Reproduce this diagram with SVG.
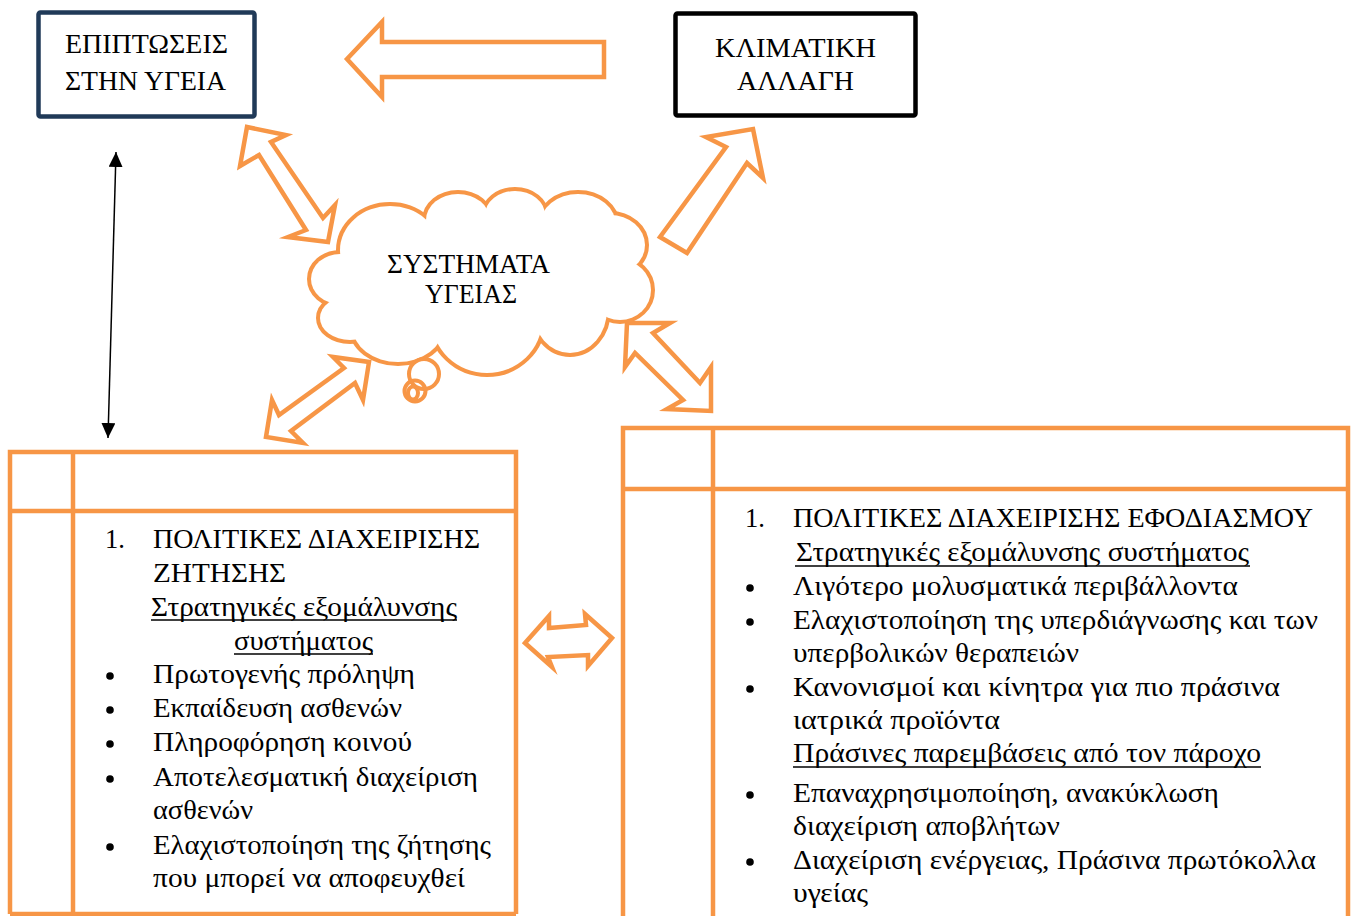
<svg xmlns="http://www.w3.org/2000/svg" width="1352" height="916" viewBox="0 0 1352 916">
<style>
  .t { font-family: "Liberation Serif", "Times New Roman", serif; fill: #000; }
  .hd { font-size: 27px; }
  .bd { font-size: 26.5px; }
  .arr { fill: #fff; stroke: #f79646; stroke-width: 4.5; stroke-linejoin: miter; stroke-miterlimit: 10; }
  .tbl { fill: none; stroke: #f79646; stroke-width: 4.5; }
  .ul { stroke: #000; stroke-width: 1.6; }
  .bul { fill: #000; }
</style>
<defs>
  <marker id="ah" viewBox="0 0 15 14" refX="15" refY="7" markerWidth="15" markerHeight="14" markerUnits="userSpaceOnUse" orient="auto-start-reverse">
    <path d="M0,0 L15,7 L0,14 z" fill="#000"/>
  </marker>
  <g id="bumps">
    <ellipse cx="340" cy="279" rx="29" ry="25"/>
    <ellipse cx="350" cy="318" rx="30" ry="22"/>
    <ellipse cx="398" cy="328" rx="45" ry="34"/>
    <ellipse cx="487" cy="320" rx="55" ry="53"/>
    <ellipse cx="570" cy="310" rx="37" ry="43"/>
    <ellipse cx="620" cy="290" rx="31" ry="30"/>
    <ellipse cx="610" cy="245" rx="35" ry="30"/>
    <ellipse cx="578" cy="225" rx="38" ry="31"/>
    <ellipse cx="515" cy="215" rx="30" ry="24"/>
    <ellipse cx="458" cy="220" rx="32" ry="26"/>
    <ellipse cx="390" cy="250" rx="50" ry="44"/>
  </g>
</defs>
<rect width="1352" height="916" fill="#fff"/>

<g id="connectors">
  <polygon class="arr" points="347,59 382,22 382,42 604,42 604,77 382,77 382,97"/>
  <polygon class="arr" points="753,129 763,178 747,163 687,253 660,237 726,147 706,137"/>
  <polygon class="arr" points="247,127 286,135 271,142 323,218 335,205 328,242 288,237 306,230 259,155 240,166"/>
  <polygon class="arr" points="369,362 363,400 355,383 291,431 303,443 266,437 272,400 279,415 344,368 333,357"/>
  <polygon class="arr" points="627,323 670,323 653,333 700,383 711,367 711,411 667,409 683,400 635,353 625,367"/>
  <polygon class="arr" points="525,643 549,616 549,628 586,625 585,614 612,638 588,666 588,655 548,657 552,667"/>
  <line x1="116" y1="152" x2="108" y2="438" stroke="#000" stroke-width="1.5" marker-start="url(#ah)" marker-end="url(#ah)"/>
</g>

<g id="node-epiptoseis">
  <rect x="38.5" y="12.5" width="216" height="104" rx="2" fill="#fff" stroke="#203a58" stroke-width="4.5"/>
  <text class="t hd" x="65" y="53" textLength="163" lengthAdjust="spacingAndGlyphs">ΕΠΙΠΤΩΣΕΙΣ</text>
  <text class="t hd" x="65" y="90" textLength="161" lengthAdjust="spacingAndGlyphs">ΣΤΗΝ ΥΓΕΙΑ</text>
</g>

<g id="node-klimatiki">
  <rect x="675.5" y="13.5" width="240" height="102" rx="2" fill="#fff" stroke="#000" stroke-width="4.5"/>
  <text class="t hd" x="715" y="57" textLength="161" lengthAdjust="spacingAndGlyphs">ΚΛΙΜΑΤΙΚΗ</text>
  <text class="t hd" x="737" y="90" textLength="117" lengthAdjust="spacingAndGlyphs">ΑΛΛΑΓΗ</text>
</g>

<g id="node-cloud">
  <use href="#bumps" fill="#fff" stroke="#f79646" stroke-width="8"/>
  <use href="#bumps" fill="#fff" stroke="none"/>
  <g fill="#fff" stroke="none">
    <ellipse cx="480" cy="285" rx="120" ry="55"/>
    <polygon points="340,279 350,318 398,328 487,320 570,310 620,290 610,245 578,225 515,215 458,220 390,250"/>
  </g>
  <g fill="none" stroke="#f79646" stroke-width="4">
    <circle cx="424" cy="374" r="15" fill="#fff"/>
    <circle cx="415" cy="391" r="10.5"/>
    <ellipse cx="413" cy="393" rx="5" ry="6.5"/>
  </g>
  <text class="t hd" x="387" y="273" textLength="163" lengthAdjust="spacingAndGlyphs">ΣΥΣΤΗΜΑΤΑ</text>
  <text class="t hd" x="425" y="303" textLength="92" lengthAdjust="spacingAndGlyphs">ΥΓΕΙΑΣ</text>
</g>

<g id="node-table-left">
  <path class="tbl" d="M10,914 V452 H516 V914 M73,452 V914 M10,511 H516 M10,914 H516"/>
  <g class="t bd">
    <text x="105" y="548">1.</text>
    <text x="153" y="548" textLength="327" lengthAdjust="spacingAndGlyphs">ΠΟΛΙΤΙΚΕΣ ΔΙΑΧΕΙΡΙΣΗΣ</text>
    <text x="153" y="582" textLength="133" lengthAdjust="spacingAndGlyphs">ΖΗΤΗΣΗΣ</text>
    <text x="151" y="616" textLength="306" lengthAdjust="spacingAndGlyphs">Στρατηγικές εξομάλυνσης</text>
    <text x="234" y="650" textLength="139" lengthAdjust="spacingAndGlyphs">συστήματος</text>
    <text x="153" y="683" textLength="262" lengthAdjust="spacingAndGlyphs">Πρωτογενής πρόληψη</text>
    <text x="153" y="717" textLength="249" lengthAdjust="spacingAndGlyphs">Εκπαίδευση ασθενών</text>
    <text x="153" y="751" textLength="259" lengthAdjust="spacingAndGlyphs">Πληροφόρηση κοινού</text>
    <text x="153" y="786" textLength="325" lengthAdjust="spacingAndGlyphs">Αποτελεσματική διαχείριση</text>
    <text x="153" y="819" textLength="100" lengthAdjust="spacingAndGlyphs">ασθενών</text>
    <text x="153" y="854" textLength="338" lengthAdjust="spacingAndGlyphs">Ελαχιστοποίηση της ζήτησης</text>
    <text x="153" y="887" textLength="312" lengthAdjust="spacingAndGlyphs">που μπορεί να αποφευχθεί</text>
  </g>
  <line class="ul" x1="151" y1="620" x2="457" y2="620"/>
  <line class="ul" x1="234" y1="654" x2="373" y2="654"/>
  <g class="bul">
    <circle cx="110" cy="676" r="3.8"/>
    <circle cx="110" cy="710" r="3.8"/>
    <circle cx="110" cy="744" r="3.8"/>
    <circle cx="110" cy="779" r="3.8"/>
    <circle cx="110" cy="847" r="3.8"/>
  </g>
</g>

<g id="node-table-right">
  <path class="tbl" d="M623,920 V428 H1348 V920 M713,428 V920 M623,489 H1348"/>
  <g class="t bd">
    <text x="745" y="527">1.</text>
    <text x="793" y="527" textLength="520" lengthAdjust="spacingAndGlyphs">ΠΟΛΙΤΙΚΕΣ ΔΙΑΧΕΙΡΙΣΗΣ ΕΦΟΔΙΑΣΜΟΥ</text>
    <text x="796" y="561" textLength="453" lengthAdjust="spacingAndGlyphs">Στρατηγικές εξομάλυνσης συστήματος</text>
    <text x="793" y="595" textLength="445" lengthAdjust="spacingAndGlyphs">Λιγότερο μολυσματικά περιβάλλοντα</text>
    <text x="793" y="629" textLength="525" lengthAdjust="spacingAndGlyphs">Ελαχιστοποίηση της υπερδιάγνωσης και των</text>
    <text x="793" y="662" textLength="286" lengthAdjust="spacingAndGlyphs">υπερβολικών θεραπειών</text>
    <text x="793" y="696" textLength="487" lengthAdjust="spacingAndGlyphs">Κανονισμοί και κίνητρα για πιο πράσινα</text>
    <text x="793" y="729" textLength="207" lengthAdjust="spacingAndGlyphs">ιατρικά προϊόντα</text>
    <text x="793" y="762" textLength="468" lengthAdjust="spacingAndGlyphs">Πράσινες παρεμβάσεις από τον πάροχο</text>
    <text x="793" y="802" textLength="426" lengthAdjust="spacingAndGlyphs">Επαναχρησιμοποίηση, ανακύκλωση</text>
    <text x="793" y="835" textLength="267" lengthAdjust="spacingAndGlyphs">διαχείριση αποβλήτων</text>
    <text x="793" y="869" textLength="523" lengthAdjust="spacingAndGlyphs">Διαχείριση ενέργειας, Πράσινα πρωτόκολλα</text>
    <text x="793" y="902" textLength="75" lengthAdjust="spacingAndGlyphs">υγείας</text>
  </g>
  <line class="ul" x1="795" y1="566" x2="1250" y2="566"/>
  <line class="ul" x1="793" y1="767" x2="1261" y2="767"/>
  <g class="bul">
    <circle cx="750" cy="588" r="3.8"/>
    <circle cx="750" cy="622" r="3.8"/>
    <circle cx="750" cy="689" r="3.8"/>
    <circle cx="750" cy="795" r="3.8"/>
    <circle cx="750" cy="862" r="3.8"/>
  </g>
</g>
</svg>
